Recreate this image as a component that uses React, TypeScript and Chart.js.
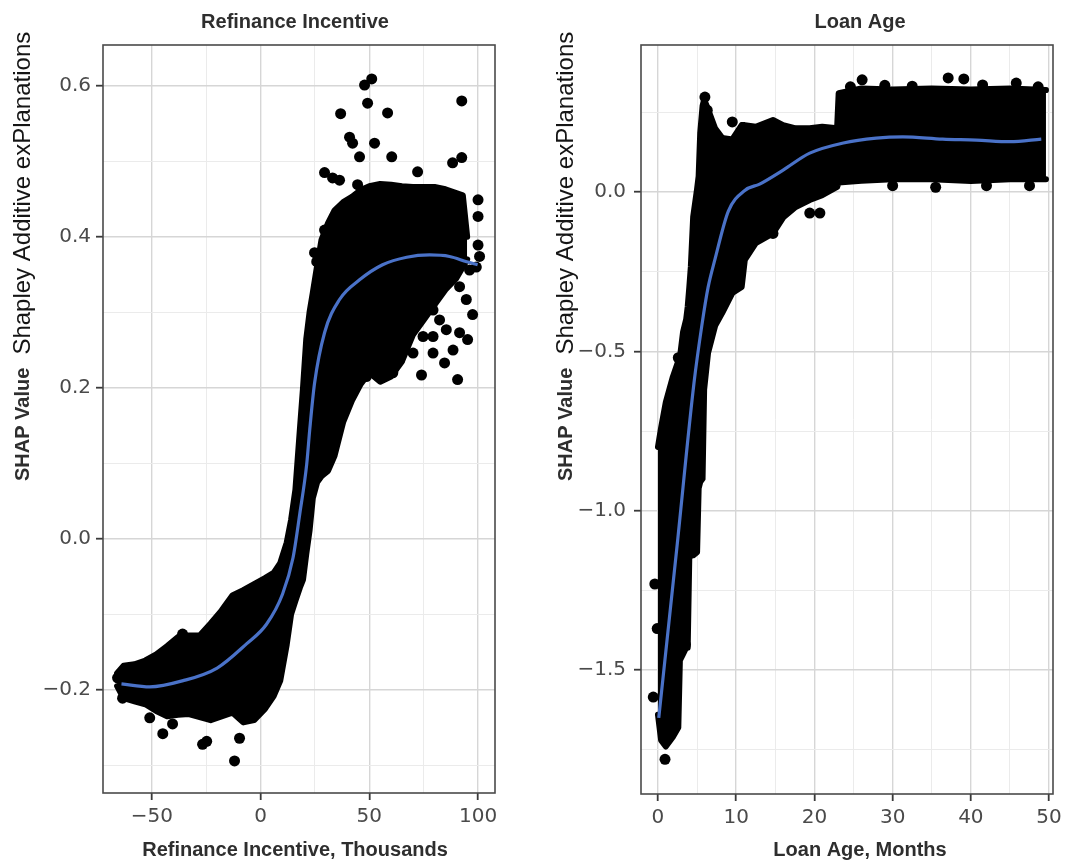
import React, { useEffect, useRef } from "react";
import { Chart, registerables } from "chart.js";

Chart.register(...registerables);

// ---------- Refinance Incentive (thousands) ----------
// dense point cloud: lower / upper envelope sampled at common x positions
const refiCloudX = [-66, -63, -58, -53, -48, -43, -38, -33, -28, -23, -18, -13, -8, -3, 2, 6, 9, 12, 14, 16, 18, 19.5, 21, 22.5, 24, 26, 28, 31, 34, 38, 42, 46, 50, 55, 60, 65, 70, 75, 80, 85, 90, 93, 95];
const refiCloudHigh = [-0.178, -0.168, -0.166, -0.161, -0.153, -0.142, -0.13, -0.128, -0.128, -0.112, -0.095, -0.075, -0.068, -0.06, -0.052, -0.045, -0.032, -0.005, 0.025, 0.065, 0.143, 0.2, 0.265, 0.3, 0.326, 0.362, 0.396, 0.418, 0.435, 0.446, 0.453, 0.462, 0.467, 0.47, 0.469, 0.467, 0.466, 0.466, 0.466, 0.463, 0.458, 0.455, 0.4];
const refiCloudLow = [-0.195, -0.211, -0.215, -0.219, -0.228, -0.235, -0.233, -0.232, -0.236, -0.24, -0.235, -0.23, -0.243, -0.24, -0.225, -0.208, -0.188, -0.14, -0.1, -0.082, -0.065, -0.054, -0.02, 0.011, 0.054, 0.075, 0.083, 0.09, 0.11, 0.155, 0.183, 0.205, 0.22, 0.208, 0.215, 0.235, 0.27, 0.29, 0.31, 0.33, 0.345, 0.36, 0.37];
// individual observations outside the dense cloud
const refiDotX = [51.1, 47.8, 49.2, 36.8, 58.4, 92.5, 40.9, 42.3, 45.5, 52.4, 60.3, 92.5, 88.3, 72.2, 29.4, 33.1, 36.3, 44.6, 100, 100, 29.4, 33, 24.8, 25.8, 100, 48.6, 90.6, 74, 97.5, 95.2, 84.6, 68.5, 74.7, 73.1, 79.3, 82.3, 91.5, 94.6, 85.4, 79.3, 74.7, 91.5, 88.5, 79.3, 70.1, 63.9, 60.8, 96.1, 99.2, 100.7, -35.9, -51, -45, -40.5, -26.7, -24.8, -9.7, -12, -63.5, -65.8, -58.9];
const refiDotY = [0.609, 0.601, 0.577, 0.563, 0.564, 0.58, 0.532, 0.524, 0.506, 0.524, 0.506, 0.505, 0.498, 0.486, 0.485, 0.478, 0.475, 0.469, 0.449, 0.427, 0.409, 0.413, 0.379, 0.367, 0.389, 0.215, 0.211, 0.217, 0.297, 0.264, 0.233, 0.317, 0.326, 0.294, 0.303, 0.29, 0.334, 0.317, 0.277, 0.268, 0.268, 0.273, 0.25, 0.246, 0.246, 0.237, 0.22, 0.356, 0.36, 0.374, -0.126, -0.237, -0.258, -0.245, -0.272, -0.268, -0.264, -0.294, -0.211, -0.184, -0.201];
// smoothed trend
const refiSmoothX = [-64, -51, -36, -20, -6.5, 2.7, 10.1, 14.9, 18, 21.2, 22.6, 24.8, 29.4, 36.3, 45.5, 56.1, 67.2, 77.7, 86.9, 94.8, 99.8];
const refiSmoothY = [-0.192, -0.196, -0.188, -0.171, -0.139, -0.113, -0.073, -0.025, 0.033, 0.099, 0.145, 0.206, 0.273, 0.317, 0.343, 0.363, 0.373, 0.376, 0.374, 0.367, 0.363];
const refiXMajor = [-50, 0, 50, 100];
const refiXMinor = [-25, 25, 75];
const refiYMajor = [-0.2, 0, 0.2, 0.4, 0.6];
const refiYMinor = [-0.3, -0.1, 0.1, 0.3, 0.5];

// ---------- Loan Age (months) ----------
const loanCloudX = [0, 0.4, 1.0, 1.9, 2.6, 2.8, 3.2, 3.6, 3.8, 4.0, 4.2, 4.5, 5.0, 5.2, 5.4, 5.7, 5.9, 6.4, 7.3, 8.2, 9.5, 10.7, 11.1, 12.5, 14.7, 16, 17.6, 19.4, 21, 22.9, 23.1, 26, 30, 35, 40, 45, 49.6];
const loanCloudHigh = [-0.8, -0.74, -0.66, -0.58, -0.53, -0.52, -0.44, -0.4, -0.36, -0.3, -0.235, -0.078, 0.01, 0.05, 0.185, 0.27, 0.29, 0.26, 0.2, 0.17, 0.165, 0.21, 0.21, 0.205, 0.226, 0.21, 0.2, 0.2, 0.205, 0.2, 0.31, 0.325, 0.322, 0.325, 0.322, 0.325, 0.32];
const loanCloudLow = [-1.64, -1.72, -1.74, -1.71, -1.68, -1.47, -1.45, -1.43, -1.43, -1.15, -1.14, -1.14, -1.13, -0.93, -0.91, -0.9, -0.62, -0.505, -0.42, -0.38, -0.317, -0.298, -0.213, -0.16, -0.13, -0.08, -0.047, -0.025, -0.01, 0.016, 0.03, 0.035, 0.04, 0.04, 0.035, 0.04, 0.04];
const loanDotX = [26.1, 37.1, 39.1, 45.8, -0.4, -0.1, -0.6, 0.9, 3.5, 6.0, 6.3, 9.5, 19.4, 20.7, 14.7, 30, 35.5, 42, 47.5, 2.6, 24.6, 29, 32.5, 41.5, 48.6];
const loanDotY = [0.352, 0.358, 0.355, 0.342, -1.23, -1.37, -1.585, -1.78, -1.42, 0.298, 0.257, 0.22, -0.066, -0.066, -0.13, 0.02, 0.015, 0.02, 0.02, -0.52, 0.33, 0.335, 0.332, 0.336, 0.33];
const loanSmoothX = [0.1, 2.4, 4.6, 5.6, 6.4, 7.3, 9.0, 11.1, 13.0, 16, 19.4, 23.7, 27.9, 31.3, 36.4, 40.7, 45, 49];
const loanSmoothY = [-1.65, -1.12, -0.6, -0.42, -0.3, -0.21, -0.06, 0.005, 0.025, 0.069, 0.122, 0.154, 0.169, 0.173, 0.166, 0.163, 0.158, 0.166];
const loanXMajor = [0, 10, 20, 30, 40, 50];
const loanXMinor = [5, 15, 25, 35, 45];
const loanYMajor = [-1.5, -1.0, -0.5, 0];
const loanYMinor = [-1.75, -1.25, -0.75, -0.25, 0.25];

const Y_TITLE_BOLD = "SHAP Value";
const Y_TITLE_REG = "Shapley Additive exPlanations";

const SANS = '"Liberation Sans", Arial, Helvetica, sans-serif';
const TICK_FONT = '"DejaVu Sans", "Liberation Sans", sans-serif';
const SMOOTH_COLOR = "#4a72c8";

type Pt = { x: number; y: number };
const zip = (xs: number[], ys: number[]): Pt[] => xs.map((x, i) => ({ x, y: ys[i] }));

const minus = (s: string) => s.replace("-", "\u2212");
const fmtDec = (v: number) => minus((Math.abs(v) < 1e-9 ? 0 : v).toFixed(1));
const fmtInt = (v: number) => minus(String(Math.round(v)));

function makeScale(
  axis: "x" | "y",
  min: number,
  max: number,
  major: number[],
  minor: number[],
  fmt: (v: number) => string,
  size: number,
  padding: number
) {
  const all = [...major, ...minor].sort((a, b) => a - b);
  const isMajor = (v: number) => major.some((m) => Math.abs(m - v) < 1e-9);
  return {
    type: "linear",
    position: axis === "x" ? "bottom" : "left",
    min,
    max,
    afterBuildTicks: (scale: any) => {
      scale.ticks = all.map((v) => ({ value: v }));
    },
    afterFit: (scale: any) => {
      if (axis === "x") scale.height = size;
      else scale.width = size;
      scale.paddingLeft = 0;
      scale.paddingRight = 0;
      scale.paddingTop = 0;
      scale.paddingBottom = 0;
    },
    border: { display: false },
    grid: {
      drawOnChartArea: true,
      drawTicks: true,
      tickLength: 7,
      color: (ctx: any) => (ctx.tick && isMajor(ctx.tick.value) ? "#d6d6d6" : "#ebebeb"),
      lineWidth: (ctx: any) => (ctx.tick && isMajor(ctx.tick.value) ? 1.4 : 1),
      tickColor: (ctx: any) => (ctx.tick && isMajor(ctx.tick.value) ? "#3a3a3a" : "rgba(0,0,0,0)"),
      tickWidth: 1.8,
    },
    ticks: {
      autoSkip: false,
      maxRotation: 0,
      minRotation: 0,
      padding,
      color: "#4a4a4a",
      font: { family: TICK_FONT, size: 20 },
      callback: (v: any) => (isMajor(Number(v)) ? fmt(Number(v)) : ""),
    },
  };
}

// panel frame drawn on top of the data, like a ggplot panel border
const framePlugin = {
  id: "panelFrame",
  afterDatasetsDraw(chart: any) {
    const { ctx, chartArea } = chart;
    ctx.save();
    ctx.strokeStyle = "#4a4a4a";
    ctx.lineWidth = 1.6;
    ctx.strokeRect(chartArea.left, chartArea.top, chartArea.right - chartArea.left, chartArea.bottom - chartArea.top);
    ctx.restore();
  },
};

// titles: panel title, x-axis title and the two-part rotated y-axis title
const textPlugin = {
  id: "panelText",
  afterDraw(chart: any, _args: any, opts: any) {
    const ctx = chart.ctx;
    ctx.save();
    ctx.textAlign = "center";
    ctx.textBaseline = "middle";
    ctx.fillStyle = "#2e2e2e";
    ctx.font = `bold 20px ${SANS}`;
    ctx.fillText(opts.title, opts.titleX, opts.titleY);
    ctx.fillText(opts.xTitle, opts.xTitleX, opts.xTitleY);

    ctx.translate(opts.yTitleX, opts.yTitleStart);
    ctx.rotate(-Math.PI / 2);
    ctx.textAlign = "left";
    ctx.font = `bold 20px ${SANS}`;
    ctx.fillStyle = "#2e2e2e";
    ctx.fillText(Y_TITLE_BOLD, 0, 0);
    const w = ctx.measureText(Y_TITLE_BOLD).width;
    ctx.font = `24px ${SANS}`;
    ctx.fillStyle = "#151515";
    ctx.fillText(Y_TITLE_REG, w + 13, 0);
    ctx.restore();
  },
};

interface PanelProps {
  left: number;
  title: string;
  xTitle: string;
  textX: number;
  xRange: [number, number];
  yRange: [number, number];
  xMajor: number[];
  xMinor: number[];
  yMajor: number[];
  yMinor: number[];
  xFmt: (v: number) => string;
  yFmt: (v: number) => string;
  cloudX: number[];
  cloudLow: number[];
  cloudHigh: number[];
  dotX: number[];
  dotY: number[];
  smoothX: number[];
  smoothY: number[];
  yAxisWidth: number;
  xAxisHeight: number;
  padRight: number;
  yTickPad: number;
}

const W = 543;
const H = 862;

function Panel(p: PanelProps) {
  const ref = useRef<HTMLCanvasElement | null>(null);

  useEffect(() => {
    if (!ref.current) return;
    const cloudStyle = {
      borderColor: "#000",
      backgroundColor: "#000",
      borderWidth: 6,
      borderJoinStyle: "round",
      borderCapStyle: "round",
      pointRadius: 0,
      tension: 0,
      order: 3,
    };
    const chart = new Chart(ref.current, {
      type: "line",
      data: {
        datasets: [
          { label: "cloud upper", data: zip(p.cloudX, p.cloudHigh), fill: "+1", ...cloudStyle },
          { label: "cloud lower", data: zip(p.cloudX, p.cloudLow), fill: false, ...cloudStyle },
          {
            label: "points",
            data: zip(p.dotX, p.dotY),
            showLine: false,
            pointRadius: 5.5,
            pointBackgroundColor: "#000",
            pointBorderWidth: 0,
            order: 2,
          },
          {
            label: "smooth",
            data: zip(p.smoothX, p.smoothY),
            borderColor: SMOOTH_COLOR,
            borderWidth: 3.2,
            pointRadius: 0,
            cubicInterpolationMode: "monotone",
            fill: false,
            order: 1,
          },
        ] as any,
      },
      options: {
        responsive: false,
        animation: false,
        devicePixelRatio: 1,
        events: [],
        layout: { padding: { top: 45, right: p.padRight, bottom: 0, left: 0 } },
        scales: {
          x: makeScale("x", p.xRange[0], p.xRange[1], p.xMajor, p.xMinor, p.xFmt, p.xAxisHeight, 5) as any,
          y: makeScale("y", p.yRange[0], p.yRange[1], p.yMajor, p.yMinor, p.yFmt, p.yAxisWidth, p.yTickPad) as any,
        },
        plugins: {
          legend: { display: false },
          tooltip: { enabled: false },
          panelText: {
            title: p.title,
            titleX: p.textX,
            titleY: 22,
            xTitle: p.xTitle,
            xTitleX: p.textX,
            xTitleY: 850,
            yTitleX: 23,
            yTitleStart: 481,
          },
        } as any,
      },
      plugins: [framePlugin, textPlugin],
    });
    return () => chart.destroy();
  }, []);

  return (
    <canvas
      ref={ref}
      width={W}
      height={H}
      style={{ position: "absolute", left: p.left, top: 0, width: W, height: H }}
    />
  );
}

export default function App() {
  return (
    <div style={{ position: "absolute", left: 0, top: 0, width: 1086, height: 862, background: "#fff" }}>
      <Panel
        left={0}
        title="Refinance Incentive"
        xTitle="Refinance Incentive, Thousands"
        textX={295}
        xRange={[-72.5, 107.8]}
        yRange={[-0.3365, 0.654]}
        xMajor={refiXMajor}
        xMinor={refiXMinor}
        yMajor={refiYMajor}
        yMinor={refiYMinor}
        xFmt={fmtInt}
        yFmt={fmtDec}
        cloudX={refiCloudX}
        cloudLow={refiCloudLow}
        cloudHigh={refiCloudHigh}
        dotX={refiDotX}
        dotY={refiDotY}
        smoothX={refiSmoothX}
        smoothY={refiSmoothY}
        yAxisWidth={103}
        xAxisHeight={69}
        padRight={48}
        yTickPad={5}
      />
      <Panel
        left={543}
        title="Loan Age"
        xTitle="Loan Age, Months"
        textX={317}
        xRange={[-2.17, 50.5]}
        yRange={[-1.889, 0.4614]}
        xMajor={loanXMajor}
        xMinor={loanXMinor}
        yMajor={loanYMajor}
        yMinor={loanYMinor}
        xFmt={fmtInt}
        yFmt={fmtDec}
        cloudX={loanCloudX}
        cloudLow={loanCloudLow}
        cloudHigh={loanCloudHigh}
        dotX={loanDotX}
        dotY={loanDotY}
        smoothX={loanSmoothX}
        smoothY={loanSmoothY}
        yAxisWidth={98}
        xAxisHeight={68}
        padRight={33}
        yTickPad={8}
      />
    </div>
  );
}
